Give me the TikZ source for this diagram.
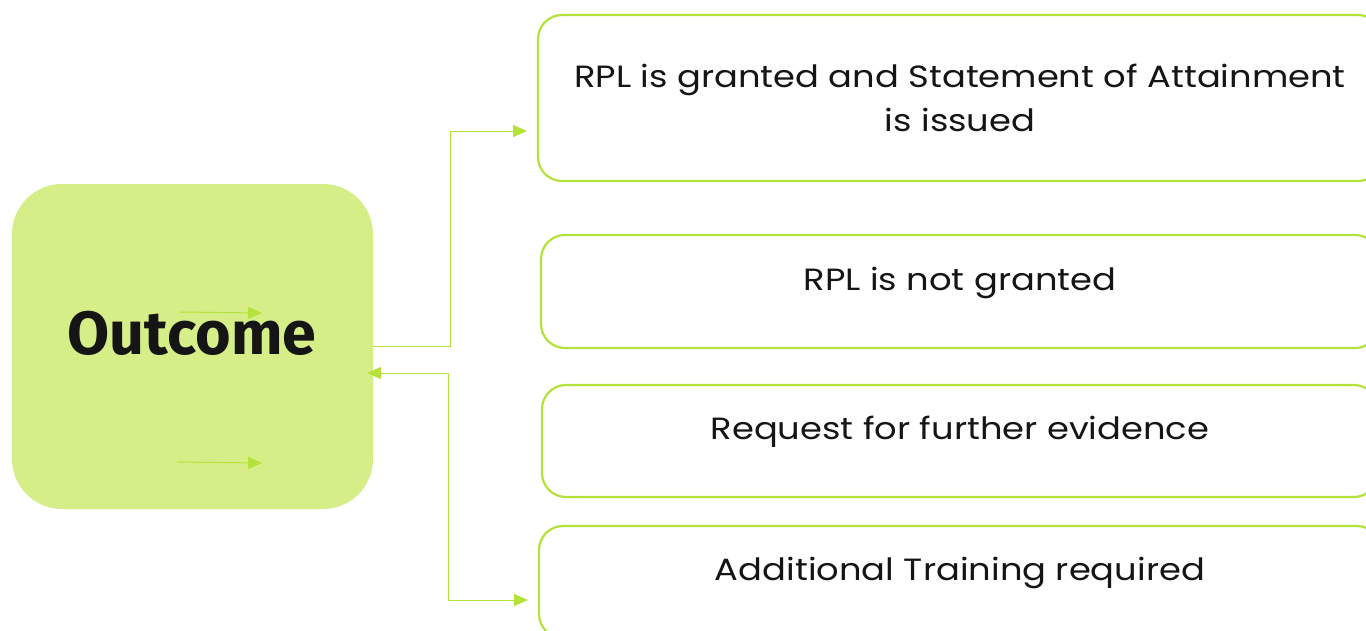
\documentclass[tikz,border=0pt]{standalone}
\usepackage{fontspec}
\setmainfont{Fira Sans}
\newfontfamily\bodyfont[FakeStretch=1.15]{Poppins}
\usetikzlibrary{arrows.meta}
\definecolor{lime}{HTML}{B5E23A}
\definecolor{limefill}{HTML}{D6EE87}
\definecolor{txt}{HTML}{151515}
\tikzset{
  x=1pt, y=-1pt,
  outbox/.style={fill=limefill, draw=none, rounded corners=50pt, minimum width=361pt, minimum height=325pt, inner sep=0pt},
  resbox/.style={draw=lime, line width=2.2pt, fill=white, rounded corners=24pt, inner sep=0pt, align=center, text=txt, font=\bodyfont\fontsize{30.7}{44}\selectfont},
  conn/.style={draw=lime, line width=1pt},
  tip/.style={-{Triangle[length=14pt,width=12pt]}},
}
\begin{document}
\begin{tikzpicture}
\useasboundingbox (0,0) rectangle (1366,630);
\clip (0,0) rectangle (1366,630);
\fill[white] (0,0) rectangle (1366,630);

% Outcome box
\node[outbox] (out) at (192.5,346.5) {};
\node[font=\fontsize{61}{61}\selectfont\bfseries, text=txt] (outlbl) at (192,333) {Outcome};

% stray arrows inside
\coordinate (a1s) at (180,312); \coordinate (a1e) at (262,313);
\coordinate (a2s) at (177,462); \coordinate (a2e) at (262,463);
\draw[conn,tip] (a1s) -- (a1e);
\draw[conn,tip] (a2s) -- (a2e);

% result boxes
\node[resbox, minimum width=844pt, minimum height=166pt] (b1) at (960,98) {RPL is granted and Statement of Attainment\\is issued};
\node[resbox, minimum width=838pt, minimum height=113pt, text height=22pt, text depth=25pt] (b2) at (960,291.5) {RPL is not granted};
\node[resbox, minimum width=836pt, minimum height=112pt, text height=22pt, text depth=25pt] (b3) at (960,441) {Request for further evidence};
\node[resbox, minimum width=842pt, minimum height=112pt, text height=22pt, text depth=25pt] (b4) at (960,582) {Additional Training required};

% connectors
\coordinate (j1) at (450,131);
\coordinate (t1) at (527,131);
\draw[conn,tip] (out.east) -| (j1) -- (t1);

\coordinate (in1) at (367,373);
\coordinate (j2) at (448,373);
\coordinate (t4) at (528,600);
\draw[conn,{Triangle[length=14pt,width=12pt]}-{Triangle[length=14pt,width=12pt]}] (in1) -- (j2) |- (t4);
\end{tikzpicture}
\end{document}
